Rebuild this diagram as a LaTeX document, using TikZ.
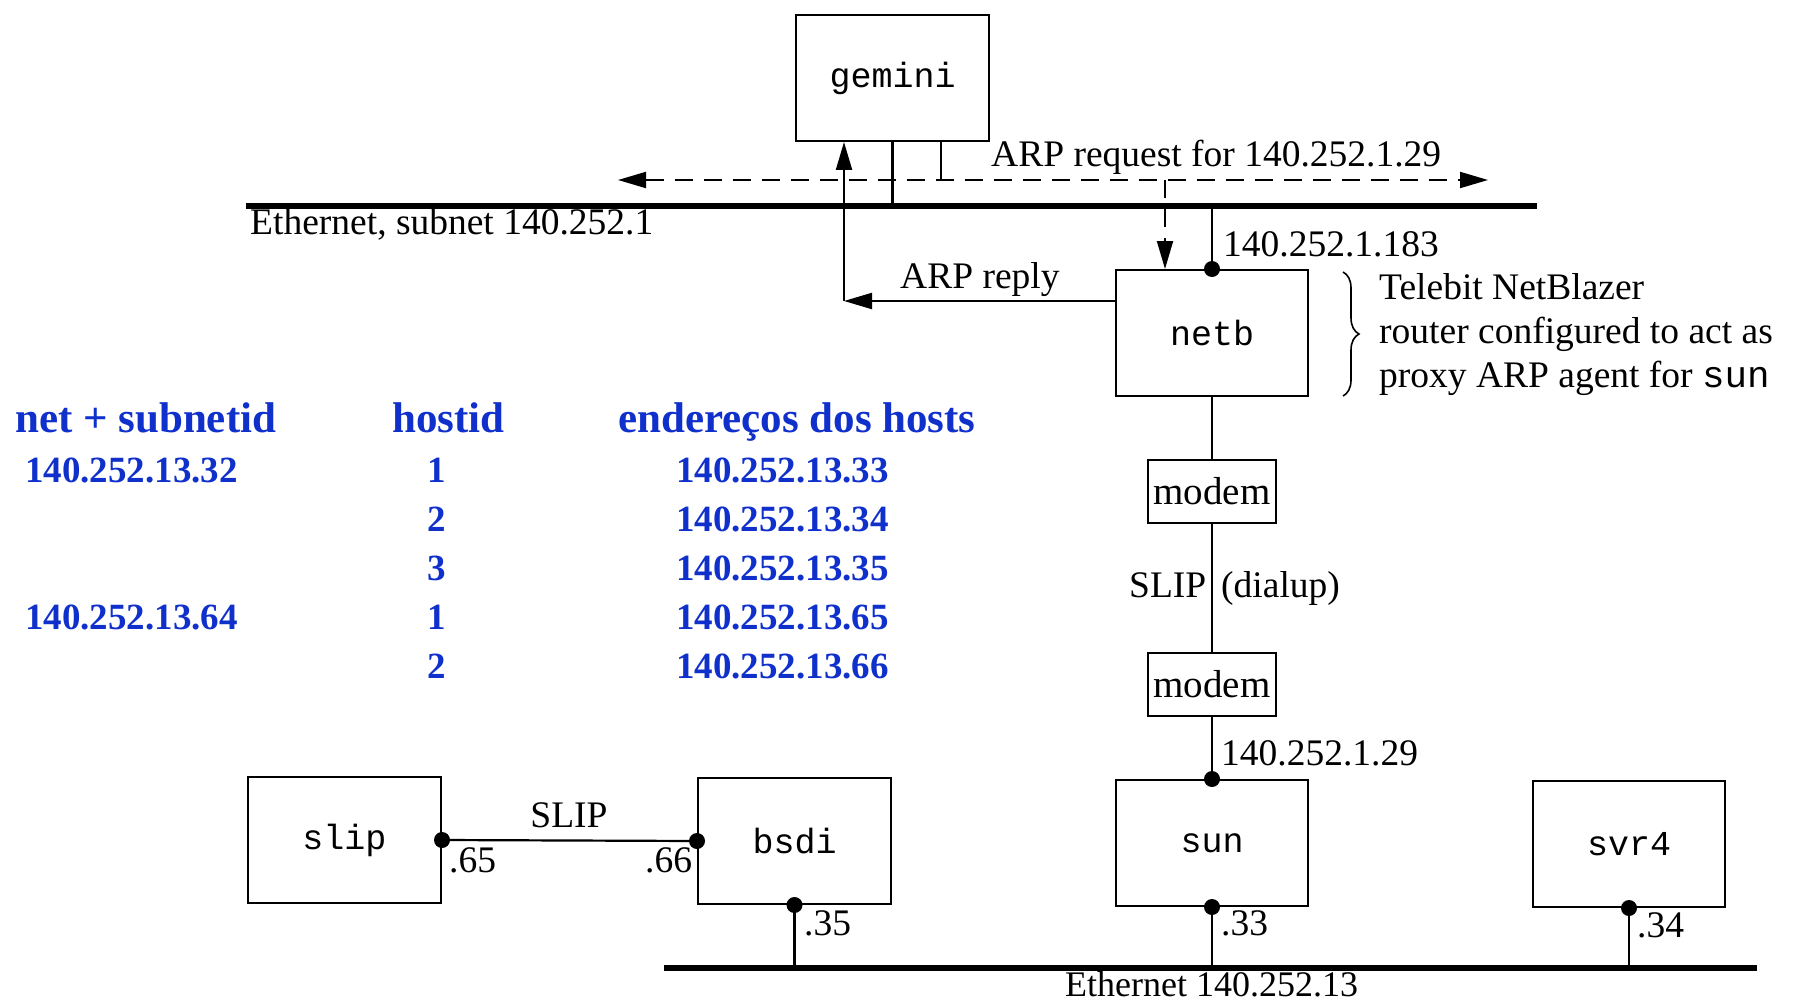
\documentclass[tikz,border=0pt]{standalone}
\usepackage{fontspec}
\setmainfont{Liberation Serif}
\setmonofont{Liberation Mono}
\usetikzlibrary{arrows.meta,decorations.pathreplacing}
\definecolor{tblblue}{RGB}{16,48,204}
\begin{document}
\begin{tikzpicture}[x=1pt,y=-1pt,
  host/.style={draw, line width=2pt, minimum width=193pt, minimum height=126pt, inner sep=0pt, font=\fontsize{35}{40}\selectfont\ttfamily},
  modembox/.style={draw, line width=2pt, minimum width=128pt, minimum height=63pt, inner sep=0pt, font=\fontsize{39}{42}\selectfont},
  lbl/.style={inner sep=0pt, anchor=base west, font=\fontsize{37.5}{42}\selectfont},
  tbl/.style={inner sep=0pt, anchor=base west, text=tblblue, font=\fontsize{37}{40}\selectfont\bfseries},
  tblh/.style={inner sep=0pt, anchor=base west, text=tblblue, font=\fontsize{43}{46}\selectfont\bfseries},
  wire/.style={line width=2.2pt},
  ether/.style={line width=6.5pt},
  dashwire/.style={line width=2pt, dash pattern=on 18pt off 11pt},
  dot/.style={circle, fill, inner sep=0pt, minimum size=16pt},
  tip/.style={-{Triangle[length=28pt,width=16pt]}},
  tips/.style={{Triangle[length=28pt,width=16pt]}-{Triangle[length=28pt,width=16pt]}}
]
\useasboundingbox (0,0) rectangle (1795,1003);

% boxes
\node[host] (gemini) at (892.5,78) {gemini};
\node[host, minimum width=192pt] (netb) at (1212,333) {netb};
\node[modembox] (modem1) at (1212,491.5) {modem};
\node[modembox] (modem2) at (1212,684) {modem};
\node[host, minimum width=192pt] (sun) at (1212,843) {sun};
\node[host, minimum width=192pt] (svr4) at (1629,844) {svr4};
\node[host] (bsdi) at (794.5,841) {bsdi};
\node[host] (slip) at (344.5,840) {slip};

% ethernets
\coordinate (ethTL) at (246,206);
\coordinate (ethTR) at (1537,206);
\coordinate (ethBL) at (664,968);
\coordinate (ethBR) at (1757,968);
\draw[ether] (ethTL) -- (ethTR);
\draw[ether] (ethBL) -- (ethBR);

% ARP request
\coordinate (reqL) at (618,180);
\coordinate (reqR) at (1488,180);
\draw[dashwire, tips] (reqL) -- (reqR);
\coordinate (greq) at (941,180);
\draw[wire] (greq |- gemini.south) -- (greq);
\draw[wire] (gemini.south) -- (gemini.south |- ethTL);
\coordinate (dq) at (1165,180);
\draw[dashwire, tip] (dq) -- (dq |- netb.north);

% ARP reply
\coordinate (rc) at (844,301);
\draw[wire, tip] (netb.west |- rc) -- (rc);
\draw[wire, tip] (rc) -- (rc |- gemini.south);

% netb chain
\draw[wire] (netb.north |- ethTL) -- (netb.north);
\node[dot] (dnetb) at (netb.north) {};
\draw[wire] (netb.south) -- (modem1.north);
\draw[wire] (modem1.south) -- (modem2.north);
\draw[wire] (modem2.south) -- (sun.north);
\node[dot] (dsun) at (sun.north) {};

% slip link
\draw[wire] (slip.east) -- (bsdi.west);
\node[dot] (dslip) at (slip.east) {};
\node[dot] (dbsdiw) at (bsdi.west) {};

% bottom drops
\draw[wire] (bsdi.south) -- (bsdi.south |- ethBL);
\draw[wire] (sun.south) -- (sun.south |- ethBL);
\draw[wire] (svr4.south) -- (svr4.south |- ethBL);
\node[dot] (dbsdi) at (bsdi.south) {};
\node[dot] (dsuns) at (sun.south) {};
\node[dot] (dsvr4) at (svr4.south) {};

% brace
\draw[line width=1.6pt, decorate, decoration={brace, amplitude=16pt}] (1343,272) -- (1343,396);

% labels
\node[lbl] (lreq) at (991,167) {ARP request for 140.252.1.29};
\node[lbl] (lethT) at (250,234) {Ethernet, subnet 140.252.1};
\node[lbl] (lrep) at (900,288) {ARP reply};
\node[lbl] (l183) at (1223,256) {140.252.1.183};
\node[lbl] (ltel1) at (1379,299) {Telebit NetBlazer};
\node[lbl] (ltel2) at (1379,343) {router configured to act as};
\node[lbl] (ltel3) at (1379,387) {proxy ARP agent for {\ttfamily sun}};
\node[lbl] (lslip1) at (1129,597) {SLIP};
\node[lbl] (ldial) at (1221,597) {(dialup)};
\node[lbl] (l129) at (1221,765) {140.252.1.29};
\node[lbl, anchor=base] (lslip2) at (569,827) {SLIP};
\node[lbl] (l65) at (449,872) {.65};
\node[lbl] (l66) at (645,872) {.66};
\node[lbl] (l35) at (804,935) {.35};
\node[lbl] (l33) at (1221,935) {.33};
\node[lbl] (l34) at (1637,937) {.34};
\node[lbl, font=\fontsize{36}{40}\selectfont] (lethB) at (1065,996) {Ethernet 140.252.13};

% table
\node[tblh] (th1) at (15,432) {net + subnetid};
\node[tblh] (th2) at (392,432) {hostid};
\node[tblh] (th3) at (618,432) {endereços dos hosts};
\node[tbl] (n1) at (25,482) {140.252.13.32};
\node[tbl] (n2) at (25,629) {140.252.13.64};
\node[tbl, anchor=base] (h1) at (437,482) {1};
\node[tbl, anchor=base] (h2) at (437,531) {2};
\node[tbl, anchor=base] (h3) at (437,580) {3};
\node[tbl, anchor=base] (h4) at (437,629) {1};
\node[tbl, anchor=base] (h5) at (437,678) {2};
\node[tbl] (a1) at (676,482) {140.252.13.33};
\node[tbl] (a2) at (676,531) {140.252.13.34};
\node[tbl] (a3) at (676,580) {140.252.13.35};
\node[tbl] (a4) at (676,629) {140.252.13.65};
\node[tbl] (a5) at (676,678) {140.252.13.66};
\end{tikzpicture}
\end{document}
